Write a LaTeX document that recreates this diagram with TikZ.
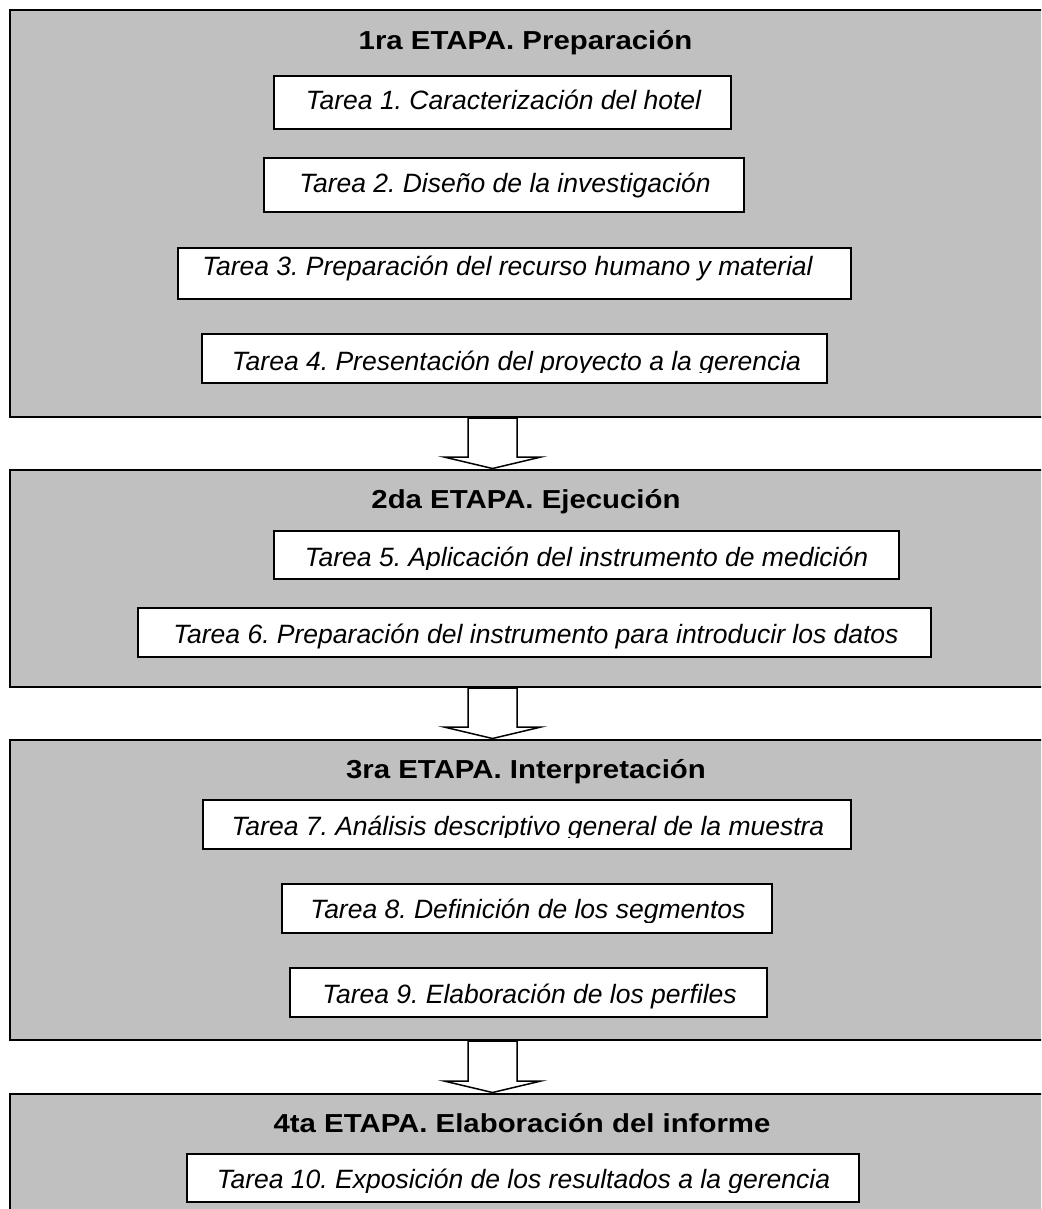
\documentclass[tikz,border=0pt]{standalone}
\usepackage{fontspec}
\setmainfont{Liberation Sans}
\newfontfamily\titlefont[FakeStretch=1.13]{Liberation Sans}
\usetikzlibrary{calc}
\definecolor{panelgray}{RGB}{192,192,192}
\frenchspacing
\newcommand\blockarr[2]{%
  \draw[blockarrow] ($(#1)+(-24.5,1)$) -- ($(#1)+(24.5,1)$) -- ($(#2)+(24.5,-13)$)
    -- ($(#2)+(48.5,-13)$) -- ($(#2)+(0,-1.5)$) -- ($(#2)+(-48.5,-13)$)
    -- ($(#2)+(-24.5,-13)$) -- cycle;}
\begin{document}
\begin{tikzpicture}[x=1pt,y=-1pt,
  panel/.style={draw=black, line width=2pt, fill=panelgray, inner sep=0pt, outer sep=0pt, anchor=north west, minimum width=1060pt},
  taskbox/.style={draw=black, line width=1.5pt, fill=white, inner sep=0pt, outer sep=0pt},
  tasktext/.style={inner sep=0pt, anchor=base, font=\fontsize{26.5}{30}\selectfont\itshape\frenchspacing},
  titletext/.style={inner sep=0pt, anchor=base, font=\titlefont\fontsize{26}{30}\selectfont\bfseries\frenchspacing},
  blockarrow/.style={draw=black, line width=1.5pt, fill=white, line join=miter}]
\clip (0,0) rectangle (1041,1209);
\fill[white] (0,0) rectangle (1041,1209);

% panels
\node[panel, minimum height=407pt] (p1) at (10,10) {};
\node[panel, minimum height=217pt] (p2) at (10,470) {};
\node[panel, minimum height=300pt] (p3) at (10,740) {};
\node[panel, minimum height=150pt] (p4) at (10,1094) {};

% arrows between panels
\coordinate (ax) at (492.5,0);
\path (p1.south -| ax) coordinate (a1s) (p2.north -| ax) coordinate (a1e);
\path (p2.south -| ax) coordinate (a2s) (p3.north -| ax) coordinate (a2e);
\path (p3.south -| ax) coordinate (a3s) (p4.north -| ax) coordinate (a3e);
\blockarr{a1s}{a1e}
\blockarr{a2s}{a2e}
\blockarr{a3s}{a3e}

% titles
\node[titletext] (h1) at (525.5,50) {1ra ETAPA. Preparación};
\node[titletext] (h2) at (526,508) {2da ETAPA. Ejecución};
\node[titletext] (h3) at (526,778) {3ra ETAPA. Interpretación};
\node[titletext] (h4) at (522,1132) {4ta ETAPA. Elaboración del informe};

% stage 1
\node[taskbox, minimum width=457pt, minimum height=53pt] (t1) at (502.5,102.5) {};
\node[tasktext] (x1) at (503.5,110) {Tarea 1. Caracterización del hotel};
\node[taskbox, minimum width=480pt, minimum height=54pt] (t2) at (504,185) {};
\node[tasktext] (x2) at (505,193) {Tarea 2. Diseño de la investigación};
\node[taskbox, minimum width=673pt, minimum height=51pt] (t3) at (514.5,273.5) {};
\node[tasktext] (x3) at (507.5,275) {Tarea 3. Preparación del recurso humano y material};
\node[taskbox, minimum width=625pt, minimum height=49pt] (t4) at (514.5,358.5) {};
\begin{scope}
  \clip (t4.north west) rectangle ($(t4.south east)+(0,-11)$);
  \node[tasktext] (x4) at (516.5,370) {Tarea 4. Presentación del proyecto a la gerencia};
\end{scope}

% stage 2
\node[taskbox, minimum width=625pt, minimum height=48pt] (t5) at (586.5,555) {};
\begin{scope}
  \clip (t5.north west) rectangle ($(t5.south east)+(0,-10)$);
  \node[tasktext] (x5) at (586.5,566) {Tarea 5. Aplicación del instrumento de medición};
\end{scope}
\node[taskbox, minimum width=793pt, minimum height=49pt] (t6) at (534.5,632.5) {};
\node[tasktext] (x6) at (536,643) {Tarea 6. Preparación del instrumento para introducir los datos};

% stage 3
\node[taskbox, minimum width=648pt, minimum height=49pt] (t7) at (527,824.5) {};
\begin{scope}
  \clip (t7.north west) rectangle ($(t7.south east)+(0,-12)$);
  \node[tasktext] (x7) at (528,835) {Tarea 7. Análisis descriptivo general de la muestra};
\end{scope}
\node[taskbox, minimum width=490pt, minimum height=49pt] (t8) at (527,908.5) {};
\begin{scope}
  \clip (t8.north west) rectangle ($(t8.south east)+(0,-11)$);
  \node[tasktext] (x8) at (528,918) {Tarea 8. Definición de los segmentos};
\end{scope}
\node[taskbox, minimum width=477pt, minimum height=49pt] (t9) at (528.5,992.5) {};
\node[tasktext] (x9) at (529.5,1003) {Tarea 9. Elaboración de los perfiles};

% stage 4
\node[taskbox, minimum width=672pt, minimum height=48pt] (t10) at (523,1178) {};
\begin{scope}
  \clip (t10.north west) rectangle ($(t10.south east)+(0,-10)$);
  \node[tasktext] (x10) at (523.5,1188) {Tarea 10. Exposición de los resultados a la gerencia};
\end{scope}
\end{tikzpicture}
\end{document}
